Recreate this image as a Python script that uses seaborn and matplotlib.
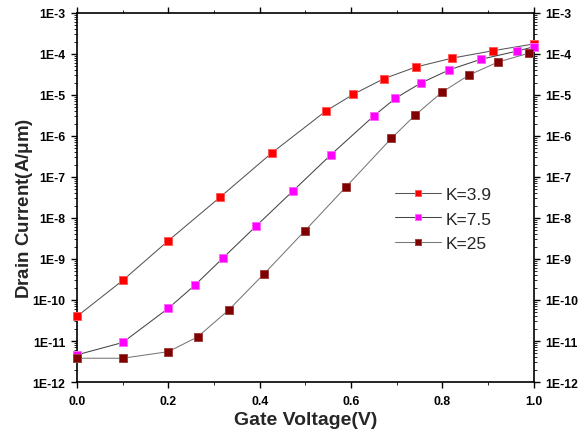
import numpy as np
import pandas as pd
import matplotlib
matplotlib.use("Agg")
import matplotlib.pyplot as plt
import seaborn as sns
from matplotlib.ticker import LogLocator, FixedLocator, NullFormatter, FuncFormatter

# Transfer characteristics for three gate dielectric constants
vg_k39 = [0.0, 0.10, 0.20, 0.313, 0.427, 0.544, 0.605, 0.672, 0.742, 0.821, 0.911, 1.0]
id_k39 = [4.0e-11, 3.0e-10, 2.8e-9, 3.2e-8, 3.9e-7, 4.0e-6, 1.04e-5, 2.5e-5,
          4.8e-5, 7.9e-5, 1.2e-4, 1.75e-4]

vg_k75 = [0.0, 0.10, 0.20, 0.258, 0.320, 0.391, 0.473, 0.556, 0.650, 0.697,
          0.753, 0.815, 0.884, 0.963, 1.0]
id_k75 = [4.6e-12, 9.2e-12, 6.3e-11, 2.3e-10, 1.07e-9, 6.2e-9, 4.6e-8, 3.5e-7,
          3.1e-6, 8.3e-6, 1.96e-5, 4.1e-5, 7.4e-5, 1.17e-4, 1.5e-4]

vg_k25 = [0.0, 0.10, 0.20, 0.264, 0.332, 0.410, 0.499, 0.588, 0.688, 0.740,
          0.799, 0.859, 0.921, 0.990]
id_k25 = [3.8e-12, 3.8e-12, 5.5e-12, 1.26e-11, 5.7e-11, 4.4e-10, 4.9e-9, 5.6e-8,
          8.7e-7, 3.2e-6, 1.17e-5, 3.1e-5, 6.3e-5, 1.05e-4]

series_names = ["K=3.9", "K=7.5", "K=25"]
series_colors = ["#ff0000", "#ff00ff", "#800000"]
edge_colors = ["#ff5a5a", "#ff66ff", "#a04040"]
line_colors = ["#555555", "#444444", "#777777"]

x_ticks = [0.0, 0.2, 0.4, 0.6, 0.8, 1.0]
y_exponents = list(range(-12, -2))

sns.set_style("ticks")
plt.rcParams["font.family"] = ["Liberation Sans", "DejaVu Sans"]
plt.rcParams["mathtext.fontset"] = "custom"
plt.rcParams["mathtext.rm"] = "Liberation Sans"
plt.rcParams["mathtext.it"] = "Liberation Sans:italic"
plt.rcParams["mathtext.bf"] = "Liberation Sans:bold"

fig = plt.figure(figsize=(5.79, 4.35), dpi=100)
ax = fig.add_axes([0.133, 0.1195, 0.789, 0.8485])

frames = [
    pd.DataFrame({"Vg": vg_k39, "Id": id_k39}),
    pd.DataFrame({"Vg": vg_k75, "Id": id_k75}),
    pd.DataFrame({"Vg": vg_k25, "Id": id_k25}),
]
for df, name, fc, ec, lc in zip(frames, series_names, series_colors, edge_colors, line_colors):
    sns.lineplot(data=df, x="Vg", y="Id", ax=ax, sort=False, color=lc, lw=0.75,
                 marker="s", markersize=5.6, markerfacecolor=fc, markeredgecolor=ec,
                 markeredgewidth=0.7, label=name, clip_on=False, zorder=3)

ax.set_yscale("log")
ax.set_xlim(0.0, 1.0)
ax.set_ylim(1e-12, 1e-3)

ax.xaxis.set_major_locator(FixedLocator(x_ticks))
ax.xaxis.set_minor_locator(FixedLocator([0.1, 0.3, 0.5, 0.7, 0.9]))
ax.xaxis.set_major_formatter(FuncFormatter(lambda v, p: f"{v:.1f}"))
ax.yaxis.set_major_locator(FixedLocator([10.0 ** e for e in y_exponents]))
ax.yaxis.set_minor_locator(LogLocator(base=10, subs=np.arange(2, 10), numticks=20))
ax.yaxis.set_minor_formatter(NullFormatter())
ax.yaxis.set_major_formatter(FuncFormatter(lambda v, p: f"1E{int(round(np.log10(v)))}"))

for side in ["top", "right", "left", "bottom"]:
    ax.spines[side].set_visible(True)
    ax.spines[side].set_linewidth(1.2)
    ax.spines[side].set_color("black")

ax.tick_params(axis="both", which="major", direction="out", length=4.5, width=1.0,
               labelsize=8.8, colors="black", top=True, right=True,
               labelright=True, labeltop=False)
ax.tick_params(axis="x", which="major", pad=5)
ax.tick_params(axis="y", which="major", pad=4)
ax.tick_params(axis="both", which="minor", direction="out", length=2.5, width=0.7,
               top=True, right=True)
for t in ax.xaxis.get_major_ticks():
    t.label1.set_fontweight("bold")
for t in ax.yaxis.get_major_ticks():
    t.label1.set_fontweight("bold")
    t.label2.set_fontweight("bold")

ax.set_xlabel("Gate Voltage(V)", fontsize=14, fontweight="bold", labelpad=3)
ax.set_ylabel(r"Drain Current(A/$\mathregular{\mu}$m)", fontsize=13.5,
              fontweight="bold")
ax.yaxis.set_label_coords(-0.092, 0.473)

leg = ax.legend(loc="upper left", bbox_to_anchor=(0.68, 0.548), frameon=False,
                fontsize=12.5, handlelength=2.65, handletextpad=0.3,
                labelspacing=0.55, borderaxespad=0, markerscale=0.85)

fig.savefig("out.png", dpi=100)
